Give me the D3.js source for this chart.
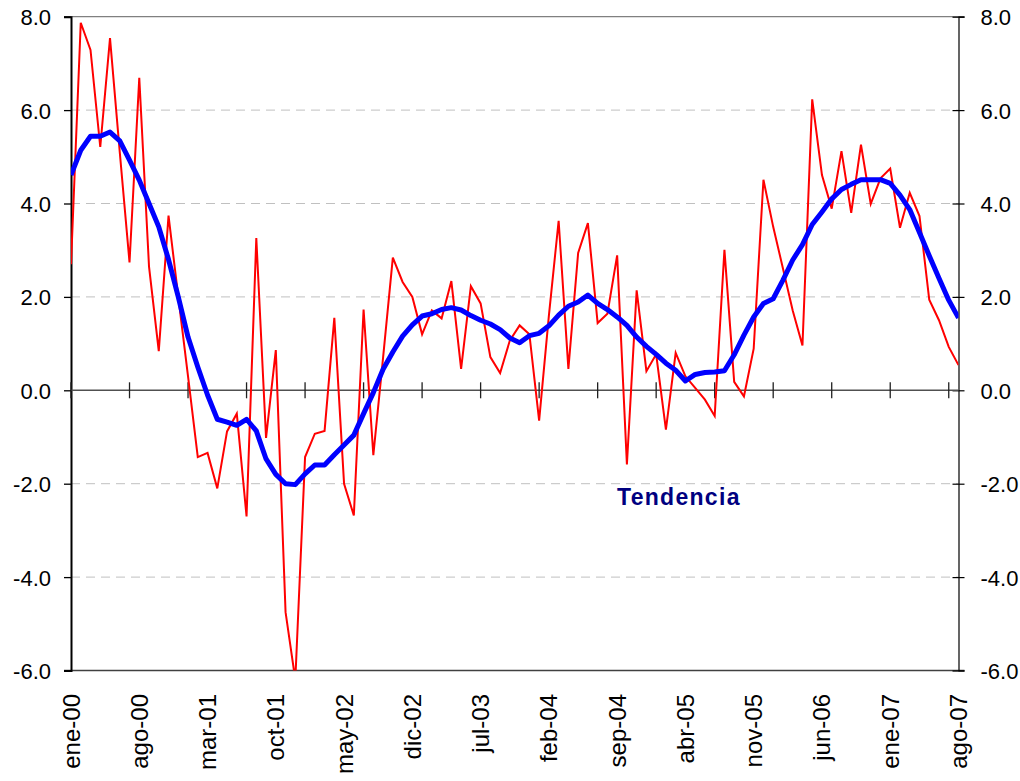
<!DOCTYPE html>
<html>
<head>
<meta charset="utf-8">
<script src="https://cdn.jsdelivr.net/npm/d3@7"></script>
<style>
  html, body { margin: 0; padding: 0; background: #fff; }
  svg { display: block; font-family: Arial, "Liberation Sans", sans-serif; }
</style>
</head>
<body>
<div id="chart"></div>
<script>
// monthly categories, ene-00 .. ago-07
const monthNames = ["ene","feb","mar","abr","may","jun","jul","ago","sep","oct","nov","dic"];
const years = ["00","01","02","03","04","05","06","07"];
const months = [];
years.forEach(y => monthNames.forEach(m => months.push(`${m}-${y}`)));
months.splice(92); // last month: ago-07

const serie = [
  2.7, 7.87, 7.29, 5.21, 7.54, 5.1, 2.74, 6.69, 2.65, 0.84, 3.74, 2.0,
  0.3, -1.43, -1.34, -2.1, -0.88, -0.5, -2.7, 3.26, -1.02, 0.86, -4.75, -6.2,
  -1.43, -0.93, -0.87, 1.55, -2.0, -2.68, 1.73, -1.39, 0.7, 2.84, 2.32, 2.0,
  1.2, 1.71, 1.54, 2.34, 0.46, 2.23, 1.86, 0.71, 0.37, 1.07, 1.39, 1.2,
  -0.65, 1.6, 3.63, 0.46, 2.94, 3.58, 1.44, 1.64, 2.89, -1.59, 2.14, 0.41,
  0.77, -0.84, 0.8, 0.3, 0.05, -0.2, -0.55, 3.01, 0.18, -0.13, 0.89, 4.51,
  3.5, 2.61, 1.71, 0.96, 6.23, 4.61, 3.89, 5.12, 3.8, 5.26, 3.99, 4.54,
  4.75, 3.48, 4.23, 3.73, 1.94, 1.5, 0.93, 0.54
];

const tendencia = [
  4.61, 5.14, 5.44, 5.44, 5.53, 5.34, 4.93, 4.5, 4.0, 3.5, 2.8, 2.0,
  1.14, 0.5, -0.1, -0.62, -0.68, -0.75, -0.62, -0.87, -1.47, -1.8, -2.0, -2.02,
  -1.79, -1.6, -1.6, -1.38, -1.17, -0.96, -0.5, -0.05, 0.45, 0.82, 1.16, 1.4,
  1.59, 1.64, 1.73, 1.77, 1.72, 1.6, 1.5, 1.42, 1.3, 1.12, 1.02, 1.17,
  1.22, 1.38, 1.61, 1.8, 1.89, 2.04, 1.86, 1.73, 1.57, 1.39, 1.14, 0.94,
  0.77, 0.58, 0.43, 0.2, 0.34, 0.38, 0.39, 0.42, 0.76, 1.18, 1.57, 1.86,
  1.96, 2.36, 2.79, 3.12, 3.55, 3.82, 4.1, 4.3, 4.41, 4.51, 4.51, 4.51,
  4.43, 4.18, 3.87, 3.38, 2.88, 2.4, 1.93, 1.55
];

const yTicks = [8, 6, 4, 2, 0, -2, -4, -6];
const labelEvery = 7;   // ene-00, ago-00, mar-01 ...
const tickEvery = 6;

const width = 1020, height = 781;
const plotLeft = 71, plotRight = 958.5, plotTop = 16.7, plotBottom = 670.5;

// plain hyphen as minus sign, like the original
const fmt = d3.formatLocale({ decimal: ".", thousands: ",", grouping: [3], currency: ["", ""], minus: "-" }).format(".1f");

const svg = d3.select("#chart").append("svg")
  .attr("width", width)
  .attr("height", height);

const x = d3.scaleLinear().domain([0, months.length - 1]).range([plotLeft, plotRight]);
const y = d3.scaleLinear().domain([-6, 8]).range([plotBottom, plotTop]);

svg.append("defs").append("clipPath").attr("id", "plot")
  .append("rect")
  .attr("x", plotLeft).attr("y", plotTop)
  .attr("width", plotRight - plotLeft).attr("height", plotBottom - plotTop);

// dashed gridlines
svg.append("g").selectAll("line")
  .data(yTicks.filter(v => v !== 8 && v !== -6 && v !== 0))
  .join("line")
  .attr("x1", plotLeft).attr("x2", plotRight)
  .attr("y1", d => y(d)).attr("y2", d => y(d))
  .attr("stroke", "#c0c0c0")
  .attr("stroke-width", 1)
  .attr("stroke-dasharray", "9,6");

// top / bottom border
[8, -6].forEach(v => {
  svg.append("line")
    .attr("x1", plotLeft - 7).attr("x2", plotRight + 6)
    .attr("y1", y(v)).attr("y2", y(v))
    .attr("stroke", v === 8 ? "#808080" : "#404040")
    .attr("stroke-width", 1.3);
});

// left axis
const leftAxis = d3.axisLeft(y).tickValues(yTicks).tickSize(7).tickPadding(13)
  .tickFormat(fmt);
const gl = svg.append("g").attr("transform", `translate(${plotLeft},0)`).call(leftAxis);
gl.select(".domain").attr("stroke", "#000").attr("stroke-width", 2);
gl.selectAll(".tick line").attr("stroke", "#000").attr("stroke-width", 1.3);
gl.selectAll("text").attr("font-size", 22).attr("fill", "#000")
  .attr("font-family", "Arial, 'Liberation Sans', sans-serif")
  .attr("dy", "0.36em");

// right axis, ticks crossing
const rightAxis = d3.axisRight(y).tickValues(yTicks).tickSize(6).tickPadding(16)
  .tickFormat(fmt);
const gr = svg.append("g").attr("transform", `translate(${plotRight},0)`).call(rightAxis);
gr.select(".domain").attr("stroke", "#000").attr("stroke-width", 1.2);
gr.selectAll(".tick line").attr("stroke", "#000").attr("stroke-width", 1.2)
  .attr("x1", -6);
gr.selectAll("text").attr("font-size", 22).attr("fill", "#000")
  .attr("font-family", "Arial, 'Liberation Sans', sans-serif")
  .attr("dy", "0.36em");

// zero line with cross ticks
svg.append("line")
  .attr("x1", plotLeft).attr("x2", plotRight)
  .attr("y1", y(0)).attr("y2", y(0))
  .attr("stroke", "#505050")
  .attr("stroke-width", 1.6);

svg.append("g").selectAll("line")
  .data(d3.range(0, months.length, tickEvery))
  .join("line")
  .attr("x1", d => x(d)).attr("x2", d => x(d))
  .attr("y1", y(0) - 8).attr("y2", y(0) + 8)
  .attr("stroke", "#202020")
  .attr("stroke-width", 1.3);

// x labels, rotated
svg.append("g").selectAll("text")
  .data(d3.range(0, months.length, labelEvery))
  .join("text")
  .attr("transform", d => `translate(${x(d) + 8.5},694) rotate(-90)`)
  .attr("text-anchor", "end")
  .attr("font-size", 24)
  .attr("fill", "#000")
  .text(d => months[d]);

// lines
const line = d3.line()
  .x((d, i) => x(i))
  .y(d => y(d));

const plot = svg.append("g").attr("clip-path", "url(#plot)");

plot.append("path")
  .datum(serie)
  .attr("d", line)
  .attr("fill", "none")
  .attr("stroke", "#ff0000")
  .attr("stroke-width", 2)
  .attr("stroke-linejoin", "miter");

plot.append("path")
  .datum(tendencia)
  .attr("d", line)
  .attr("fill", "none")
  .attr("stroke", "#0000ff")
  .attr("stroke-width", 5)
  .attr("stroke-linejoin", "round");

svg.append("text")
  .attr("x", 617)
  .attr("y", 505)
  .attr("font-size", 23)
  .attr("font-weight", "bold")
  .attr("letter-spacing", 1.3)
  .attr("fill", "#000080")
  .text("Tendencia");
</script>
</body>
</html>
